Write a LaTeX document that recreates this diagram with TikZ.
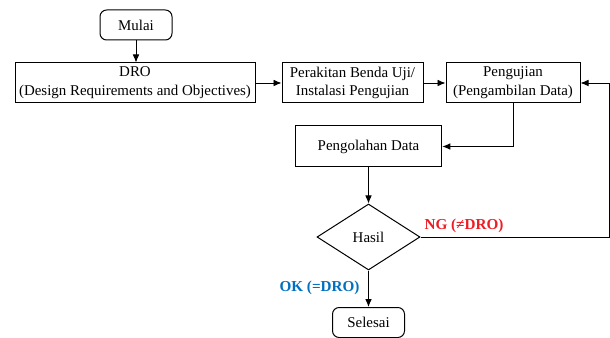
\documentclass[tikz,border=0pt]{standalone}
\usepackage{fontspec}
\setmainfont{Liberation Serif}
\usepackage{tikz}
\usetikzlibrary{arrows.meta,shapes.geometric}
\usetikzlibrary{positioning}
\definecolor{ngred}{RGB}{238,28,36}
\definecolor{okblue}{RGB}{0,112,192}
\tikzset{arrowout/.style={-{Latex[length=6pt,width=5pt]},line width=0.65pt},box/.style={rectangle, minimum height=30pt, inner sep=1pt, text centered, draw=black, line width=0.75pt},terminal/.style={box, rounded corners=5pt, minimum width=54pt, minimum height=22.5pt},decision/.style={diamond, draw=black, line width=0.75pt, inner sep=0pt, minimum width=77.25pt, minimum height=49.5pt},tag/.style={font=\fontsize{11.4}{14}\selectfont\bfseries}}

\begin{document}
\begin{tikzpicture} [align=center, x=0.75pt, y=-0.75pt, font=\fontsize{11.2}{14}\selectfont]
\useasboundingbox (0,0) rectangle (610,338);

\node(mulai) at (136, 25) [terminal] {Mulai};
\node(dro) at (135, 83) [box, minimum width=180pt] {DRO\\(Design Requirements and Objectives)};
\node(rakit) at (352.5, 83) [box, minimum width=105.75pt] {Perakitan Benda Uji/\\Instalasi Pengujian};
\node(uji) at (513, 83) [box, minimum width=100.5pt] {Pengujian\\(Pengambilan Data)};
\node(olah) at (368.5, 146.5) [box, minimum width=110pt, minimum height=30.75pt] {Pengolahan Data};
\node(hasil) at (368.5, 237) [decision] {Hasil};
\node(selesai) at (368.5, 322.5) [terminal, minimum height=22.5pt] {Selesai};
\coordinate(balik) at (609, 83);

\node(ng) at (464, 226) [tag, text=ngred] {NG (≠DRO)};
\node(ok) at (319.5, 288) [tag, text=okblue] {OK (=DRO)};

\draw (mulai) edge[arrowout] (mulai |- dro.north);
\draw (dro) edge[arrowout] (rakit);
\draw (rakit) edge[arrowout] (uji);
\draw[arrowout] (uji.south) |- (olah.east);
\draw (olah) edge[arrowout] (hasil);
\draw (hasil) edge[arrowout] (selesai);
\draw[arrowout] (hasil.east) -| (balik) -- (uji.east);

\end{tikzpicture}
\end{document}
